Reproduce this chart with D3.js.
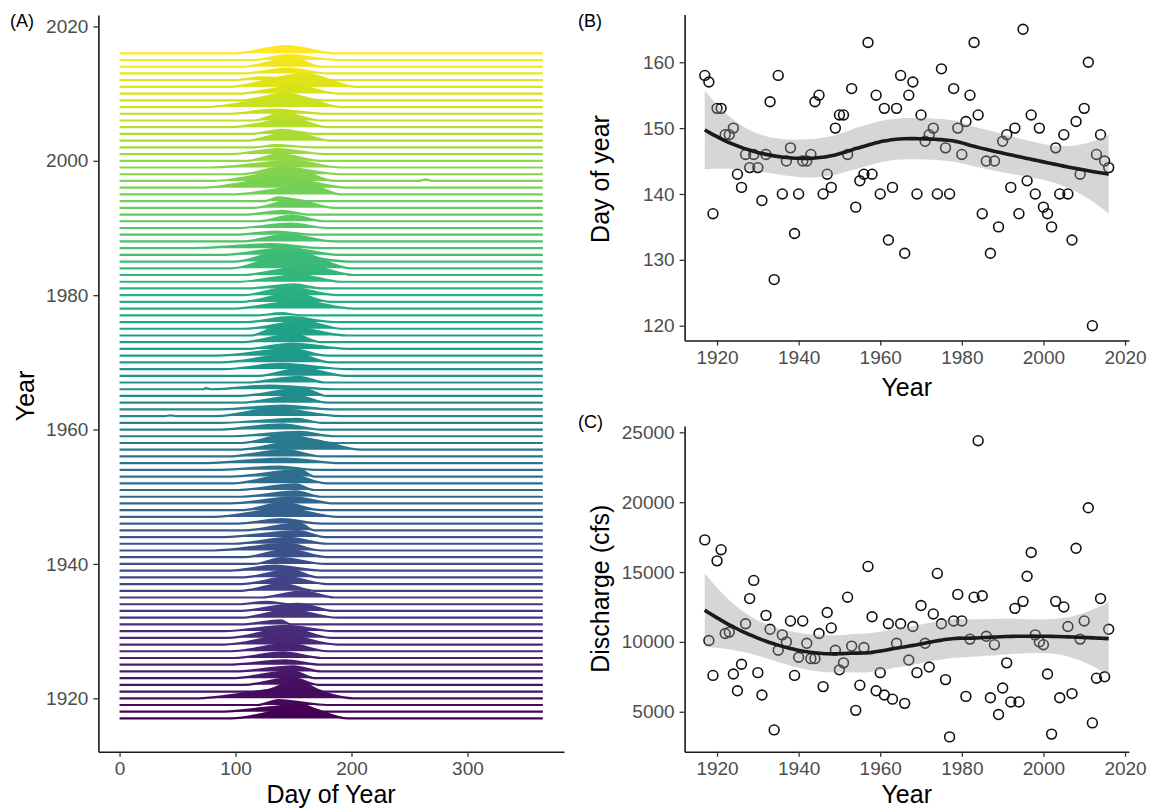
<!doctype html>
<html lang="en">
  <head>
    <title>Snowmelt peak timing and discharge</title>
    <style>
      body {
        margin: 0;
        background: #fff;
      }
      svg {
        display: block;
      }
      text {
        font-family: "Liberation Sans", Arial, sans-serif;
      }
      .axis .domain {
        stroke: #1a1a1a;
        stroke-width: 1.6px;
      }
      .axis line {
        stroke: #333;
        stroke-width: 1.3px;
      }
      .axis text {
        fill: #4d4d4d;
        font-size: 19px;
      }
      .title {
        font-size: 25px;
        fill: #000;
      }
      .tag {
        font-size: 18px;
        fill: #000;
      }
    </style>
  </head>
  <body>
    <svg id="chart" width="1152" height="809"></svg>

    <script src="https://cdn.jsdelivr.net/npm/d3@7"></script>
    <script>
      // water years shown in every panel
      const years = [
        1917, 1918, 1919, 1920, 1921, 1922, 1923, 1924, 1925, 1926,
        1927, 1928, 1929, 1930, 1931, 1932, 1933, 1934, 1935, 1936,
        1937, 1938, 1939, 1940, 1941, 1942, 1943, 1944, 1945, 1946,
        1947, 1948, 1949, 1950, 1951, 1952, 1953, 1954, 1955, 1956,
        1957, 1958, 1959, 1960, 1961, 1962, 1963, 1964, 1965, 1966,
        1967, 1968, 1969, 1970, 1971, 1972, 1973, 1974, 1975, 1976,
        1977, 1978, 1979, 1980, 1981, 1982, 1983, 1984, 1985, 1986,
        1987, 1988, 1989, 1990, 1991, 1992, 1993, 1994, 1995, 1996,
        1997, 1998, 1999, 2000, 2001, 2002, 2003, 2004, 2005, 2006,
        2007, 2008, 2009, 2010, 2011, 2012, 2013, 2014, 2015, 2016
      ]

      // (B) day of year of the annual peak
      const peakDay = [
        158, 157, 137, 153, 153, 149, 149, 150, 143, 141,
        146, 144, 146, 144, 139, 146, 154, 127, 158, 140,
        145, 147, 134, 140, 145, 145, 146, 154, 155, 140,
        143, 141, 150, 152, 152, 146, 156, 138, 142, 143,
        163, 143, 155, 140, 153, 133, 141, 153, 158, 131,
        155, 157, 140, 152, 148, 149, 150, 140, 159, 147,
        140, 156, 150, 146, 151, 155, 163, 152, 137, 145,
        131, 145, 135, 148, 149, 141, 150, 137, 165, 142,
        152, 140, 150, 138, 137, 135, 147, 140, 149, 140,
        133, 151, 143, 153, 160, 120, 146, 149, 145, 144
      ]

      // (C) peak discharge, cfs
      const peakFlow = [
        17300, 10100, 7600, 15800, 16600, 10600, 10700, 7700, 6500, 8400,
        11300, 13100, 14400, 7800, 6200, 11900, 10900, 3700, 9400, 10500,
        10000, 11500, 7600, 8900, 11500, 9900, 8800, 8800, 10600, 6800,
        12100, 11000, 9400, 8000, 8500, 13200, 9700, 5100, 6900, 9600,
        15400, 11800, 6500, 7800, 6200, 11300, 5900, 9900, 11300, 5600,
        8700, 11100, 7800, 12600, 9900, 8200, 12000, 14900, 11300, 7300,
        3200, 11500, 13400, 11500, 6100, 10200, 13200, 24400, 13300, 10400,
        6000, 9800, 4800, 6700, 8500, 5700, 12400, 5700, 12900, 14700,
        16400, 10500, 10000, 9800, 7700, 3400, 12900, 6000, 12500, 11100,
        6300, 16700, 10200, 11500, 19600, 4200, 7400, 13100, 7500, 10900
      ]

      // (A) day the spring rise leaves base flow, and day the recession ends
      const riseStart = [
        96, 84, 119, 64, 122, 107, 96, 99, 93, 99,
        96, 90, 93, 90, 105, 105, 102, 102, 122, 105,
        105, 107, 96, 116, 107, 81, 99, 90, 107, 102,
        81, 105, 96, 105, 102, 99, 96, 87, 70, 93,
        102, 105, 93, 87, 87, 84, 87, 105, 102, 73,
        110, 120, 90, 87, 84, 110, 105, 113, 107, 110,
        119, 96, 105, 107, 110, 102, 105, 96, 99, 90,
        64, 105, 99, 102, 119, 110, 116, 125, 96, 70,
        81, 105, 79, 110, 96, 116, 110, 113, 96, 116,
        96, 73, 105, 102, 93, 100, 105, 107, 116, 99
      ]
      const recessEnd = [
        197, 177, 179, 202, 177, 171, 168, 174, 174, 174,
        179, 188, 182, 185, 148, 188, 185, 148, 185, 168,
        179, 171, 174, 177, 179, 174, 179, 177, 168, 174,
        188, 174, 185, 174, 168, 179, 168, 168, 191, 174,
        208, 185, 185, 174, 174, 191, 182, 179, 179, 185,
        177, 195, 197, 182, 179, 197, 174, 197, 191, 185,
        156, 202, 182, 188, 174, 191, 202, 200, 197, 188,
        174, 185, 168, 179, 177, 162, 185, 162, 191, 197,
        185, 191, 191, 174, 177, 168, 182, 168, 179, 174,
        177, 191, 174, 188, 205, 174, 179, 174, 188, 185
      ]

      // off-season bumps: [year, day, cfs]
      const extraBumps = [[1997, 264, 2600], [1966, 74, 1800], [1962, 44, 1200]]

      const dayTicks = [0, 100, 200, 300]
      const ridgeYearTicks = [1920, 1940, 1960, 1980, 2000, 2020]
      const yearTicks = [1920, 1940, 1960, 1980, 2000, 2020]
      const doyTicks = [120, 130, 140, 150, 160]
      const flowTicks = [5000, 10000, 15000, 20000, 25000]

      const svg = d3.select('#chart')

      // ggplot style 5% padding
      const expand = ([a, b]) => [a - (b - a) * 0.05, b + (b - a) * 0.05]

      // ---------- (A) ridgelines ----------
      const ax = d3.scaleLinear().domain(expand([0, 365])).range([98.4, 564])
      const ay = d3.scaleLinear().domain([1912.05, 2021.7]).range([751.7, 15])
      const rowH = ay(1917) - ay(1918)
      const maxFlow = d3.max(peakFlow)
      const hScale = d3.scaleLinear().domain([0, maxFlow]).range([0, rowH * 2.4])
      const color = d3.scaleSequential(d3.interpolateViridis).domain([1917, 2016])

      const ridges = years.map((yr, i) => {
        const pts = [[0, 0], [riseStart[i], 0], [peakDay[i], peakFlow[i]], [recessEnd[i], 0]]
        extraBumps.filter(b => b[0] === yr).forEach(b => {
          pts.push([b[1] - 5, 0], [b[1], b[2]], [b[1] + 5, 0])
        })
        pts.push([365, 0])
        pts.sort((a, b) => a[0] - b[0])
        return { year: yr, pts }
      })

      const area = yr => d3.area()
        .x(d => ax(d[0]))
        .y0(ay(yr))
        .y1(d => ay(yr) - hScale(d[1]))
        .curve(d3.curveMonotoneX)
      const line = yr => d3.line()
        .x(d => ax(d[0]))
        .y(d => ay(yr) - hScale(d[1]))
        .curve(d3.curveMonotoneX)

      const gA = svg.append('g')
      // upper years first, so lower ridges sit in front
      ridges.slice().reverse().forEach(r => {
        gA.append('path')
          .attr('d', area(r.year)(r.pts))
          .attr('fill', color(r.year))
        gA.append('path')
          .attr('d', line(r.year)(r.pts))
          .attr('fill', 'none')
          .attr('stroke', color(r.year))
          .attr('stroke-width', 2.2)
      })

      svg.append('g').attr('class', 'axis')
        .attr('transform', 'translate(98.4,0)')
        .call(d3.axisLeft(ay).tickValues(ridgeYearTicks).tickFormat(d3.format('d')).tickSize(5).tickSizeOuter(0).tickPadding(5))
      svg.append('g').attr('class', 'axis')
        .attr('transform', 'translate(0,751.7)')
        .call(d3.axisBottom(ax).tickValues(dayTicks).tickSize(5).tickSizeOuter(0).tickPadding(5))

      // ---------- loess (span 0.75, degree 2) with 95% band ----------
      const invert3 = m => {
        const [a, b, c] = m[0], [d, e, f] = m[1], [g, h, k] = m[2]
        const A = e * k - f * h, B = -(d * k - f * g), C = d * h - e * g
        const det = a * A + b * B + c * C
        return [
          [A / det, -(b * k - c * h) / det, (b * f - c * e) / det],
          [B / det, (a * k - c * g) / det, -(a * f - c * d) / det],
          [C / det, -(a * h - b * g) / det, (a * e - b * d) / det]
        ]
      }

      const loess = (xs, ys, span, nOut) => {
        const n = xs.length
        const q = Math.floor(n * span)
        const weightsAt = x0 => {
          const d = xs.map(x => Math.abs(x - x0))
          const h = d.slice().sort((p, r) => p - r)[q - 1] * 1.0001
          const w = d.map(v => v < h ? Math.pow(1 - Math.pow(v / h, 3), 3) : 0)
          const S = [[0, 0, 0], [0, 0, 0], [0, 0, 0]]
          xs.forEach((x, i) => {
            const u = (x - x0) / h
            const b = [1, u, u * u]
            for (let r = 0; r < 3; r++) for (let c = 0; c < 3; c++) S[r][c] += w[i] * b[r] * b[c]
          })
          const inv = invert3(S)
          return xs.map((x, i) => {
            const u = (x - x0) / h
            return w[i] * (inv[0][0] + inv[0][1] * u + inv[0][2] * u * u)
          })
        }
        const L = xs.map(weightsAt)
        const fitted = L.map(l => d3.sum(l, (v, j) => v * ys[j]))
        const rss = d3.sum(ys, (y, i) => (y - fitted[i]) ** 2)
        // M = I - L ; A = M'M
        const M = L.map((l, i) => l.map((v, j) => (i === j ? 1 : 0) - v))
        const Am = d3.range(n).map(i => d3.range(n).map(j => {
          let s = 0
          for (let k = 0; k < n; k++) s += M[k][i] * M[k][j]
          return s
        }))
        const delta1 = d3.sum(Am, (r, i) => r[i])
        const delta2 = d3.sum(Am, r => d3.sum(r, v => v * v))
        const sigma = Math.sqrt(rss / delta1)
        const df = delta1 * delta1 / delta2
        const z = 1.959964
        const t = z + (z ** 3 + z) / (4 * df) + (5 * z ** 5 + 16 * z ** 3 + 3 * z) / (96 * df * df)
        const [lo, hi] = d3.extent(xs)
        return d3.range(nOut).map(k => {
          const x0 = lo + (hi - lo) * k / (nOut - 1)
          const l = weightsAt(x0)
          const fit = d3.sum(l, (v, j) => v * ys[j])
          const se = sigma * Math.sqrt(d3.sum(l, v => v * v))
          return { x: x0, fit, lo: fit - t * se, hi: fit + t * se }
        })
      }

      // ---------- (B) and (C) scatter panels ----------
      const bx = d3.scaleLinear().domain(expand(d3.extent(years))).range([684.6, 1128.9])

      const scatterPanel = (values, yRange, ticks) => {
        const y = d3.scaleLinear().domain(expand(d3.extent(values))).range(yRange)
        const g = svg.append('g')
        g.selectAll('circle').data(values).enter()
          .append('circle')
            .attr('cx', (d, i) => bx(years[i]))
            .attr('cy', d => y(d))
            .attr('r', 4.9)
            .attr('fill', 'none')
            .attr('stroke', '#111')
            .attr('stroke-width', 1.6)

        const sm = loess(years, values, 0.75, 80)
        g.append('path')
          .attr('d', d3.area().x(d => bx(d.x)).y0(d => y(d.lo)).y1(d => y(d.hi))(sm))
          .attr('fill', '#999')
          .attr('fill-opacity', 0.4)
        g.append('path')
          .attr('d', d3.line().x(d => bx(d.x)).y(d => y(d.fit)).curve(d3.curveMonotoneX)(sm))
          .attr('fill', 'none')
          .attr('stroke', '#1a1a1a')
          .attr('stroke-width', 3.6)

        svg.append('g').attr('class', 'axis')
          .attr('transform', `translate(${bx.range()[0]},0)`)
          .call(d3.axisLeft(y).tickValues(ticks).tickFormat(d3.format('d')).tickSize(5).tickSizeOuter(0).tickPadding(5))
        svg.append('g').attr('class', 'axis')
          .attr('transform', `translate(0,${yRange[0]})`)
          .call(d3.axisBottom(bx).tickValues(yearTicks).tickFormat(d3.format('d')).tickSize(5).tickSizeOuter(0).tickPadding(5))
      }

      scatterPanel(peakDay, [340.5, 14.5], doyTicks)
      scatterPanel(peakFlow, [751.7, 425.9], flowTicks)

      // ---------- titles and panel tags ----------
      const title = (txt, x, y, rot) => svg.append('text')
        .attr('class', 'title')
        .attr('text-anchor', 'middle')
        .attr('transform', `translate(${x},${y})` + (rot ? ' rotate(-90)' : ''))
        .text(txt)

      title('Year', 34, 396, true)
      title('Day of Year', 331, 803)
      title('Day of year', 609, 179, true)
      title('Year', 906.7, 396)
      title('Discharge (cfs)', 609, 588.8, true)
      title('Year', 906.7, 803)

      svg.append('text').attr('class', 'tag').attr('x', 10).attr('y', 27).text('(A)')
      svg.append('text').attr('class', 'tag').attr('x', 578).attr('y', 27).text('(B)')
      svg.append('text').attr('class', 'tag').attr('x', 578).attr('y', 428).text('(C)')
    </script>
  </body>
</html>
